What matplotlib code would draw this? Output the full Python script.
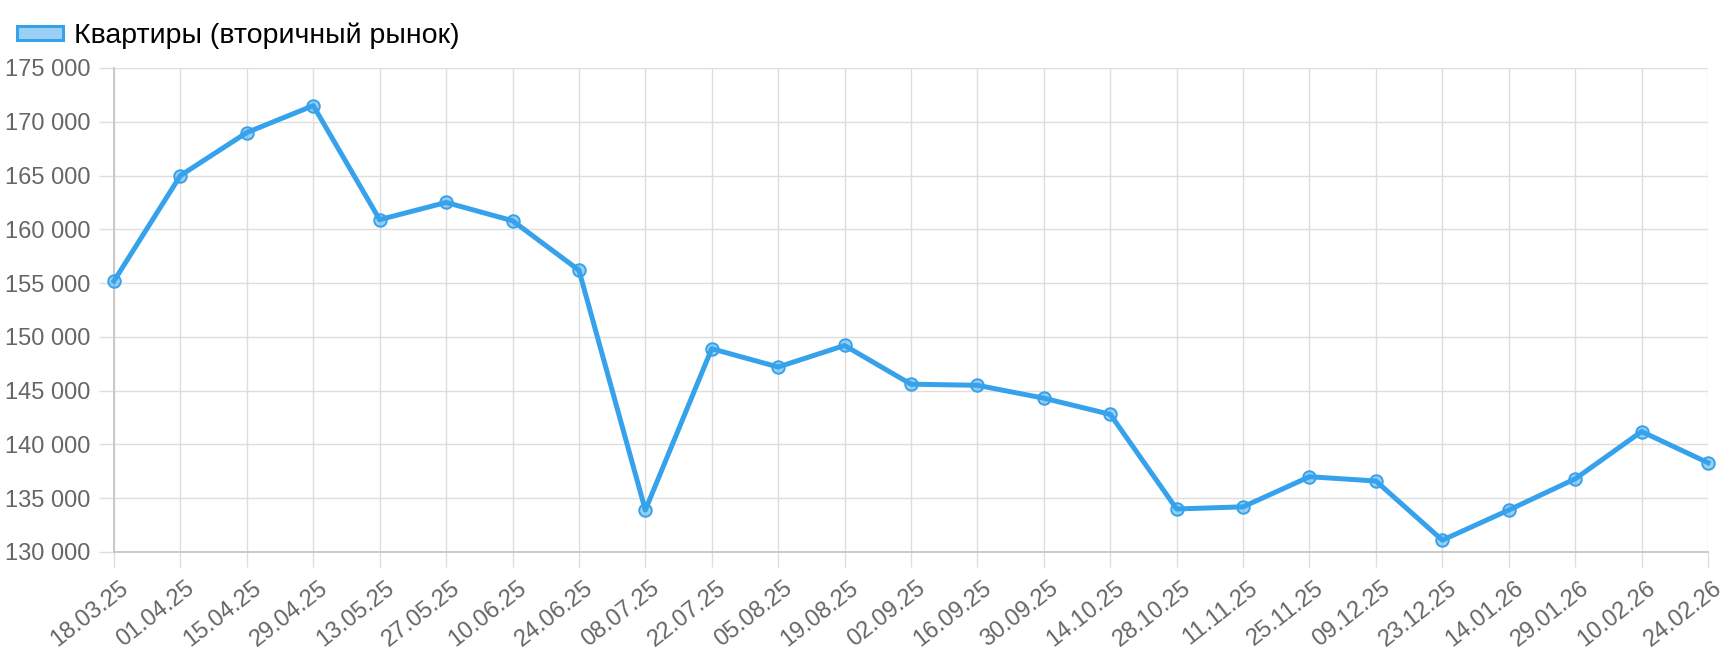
import matplotlib
matplotlib.use("Agg")
import matplotlib.pyplot as plt
import matplotlib.transforms as mtransforms
from matplotlib.patches import Patch
from matplotlib.ticker import FuncFormatter

# data
dates = ["18.03.25", "01.04.25", "15.04.25", "29.04.25", "13.05.25", "27.05.25",
         "10.06.25", "24.06.25", "08.07.25", "22.07.25", "05.08.25", "19.08.25",
         "02.09.25", "16.09.25", "30.09.25", "14.10.25", "28.10.25", "11.11.25",
         "25.11.25", "09.12.25", "23.12.25", "14.01.26", "29.01.26", "10.02.26",
         "24.02.26"]
prices = [155200, 165000, 169000, 171500, 160900, 162500,
          160800, 156200, 133900, 148900, 147200, 149200,
          145600, 145500, 144300, 142800, 134000, 134200,
          137000, 136600, 131100, 133900, 136800, 141200,
          138300]
series_name = "Квартиры (вторичный рынок)"
y_ticks = [130000, 135000, 140000, 145000, 150000, 155000, 160000, 165000, 170000, 175000]

blue = "#36A2EB"
blue_fill = (54 / 255, 162 / 255, 235 / 255, 0.5)
grid_col = "#dedede"
axis_col = "#c6c6c6"

plt.rcParams["font.family"] = ["Liberation Sans", "DejaVu Sans"]

fig = plt.figure(figsize=(17.32, 6.6), dpi=100)
ax = fig.add_axes([114 / 1732, 1 - 552 / 660, (1708 - 114) / 1732, (552 - 68) / 660])

x = list(range(len(dates)))
ax.plot(x, prices, color=blue, linewidth=3.6, marker="o", markersize=9,
        markerfacecolor=blue_fill, markeredgecolor=blue, markeredgewidth=1.4,
        zorder=3, clip_on=False)

ax.set_xlim(0, len(dates) - 1)
ax.set_ylim(y_ticks[0], y_ticks[-1])
ax.set_xticks(x)
ax.set_xticklabels(dates, rotation=38, ha="right", va="top", rotation_mode="anchor")
ax.set_yticks(y_ticks)
ax.yaxis.set_major_formatter(FuncFormatter(lambda v, p: f"{int(v):,}".replace(",", " ")))

ax.grid(True, color=grid_col, linewidth=1.0)
ax.set_axisbelow(True)
for s in ["top", "right"]:
    ax.spines[s].set_visible(False)
for s in ["left", "bottom"]:
    ax.spines[s].set_color(axis_col)
    ax.spines[s].set_linewidth(1.3)
ax.tick_params(axis="both", colors=grid_col, length=11, width=1.0, labelcolor="#666666",
               labelsize=17, pad=6)
ax.tick_params(axis="x", pad=7)

# nudge x labels a little right, like the reference
shift = mtransforms.ScaledTranslation(5 / 100, 0, fig.dpi_scale_trans)
for lab in ax.get_xticklabels():
    lab.set_transform(lab.get_transform() + shift)

handle = Patch(facecolor=blue_fill, edgecolor=blue, linewidth=2.2)
fig.legend(handles=[handle], labels=[series_name], loc="center left",
           bbox_to_anchor=(17 / 1732, 1 - 36 / 660), frameon=False, fontsize=20.5,
           handlelength=1.6, handleheight=0.35, handletextpad=0.4, borderaxespad=0,
           borderpad=0)

fig.savefig("out.png", dpi=100)
